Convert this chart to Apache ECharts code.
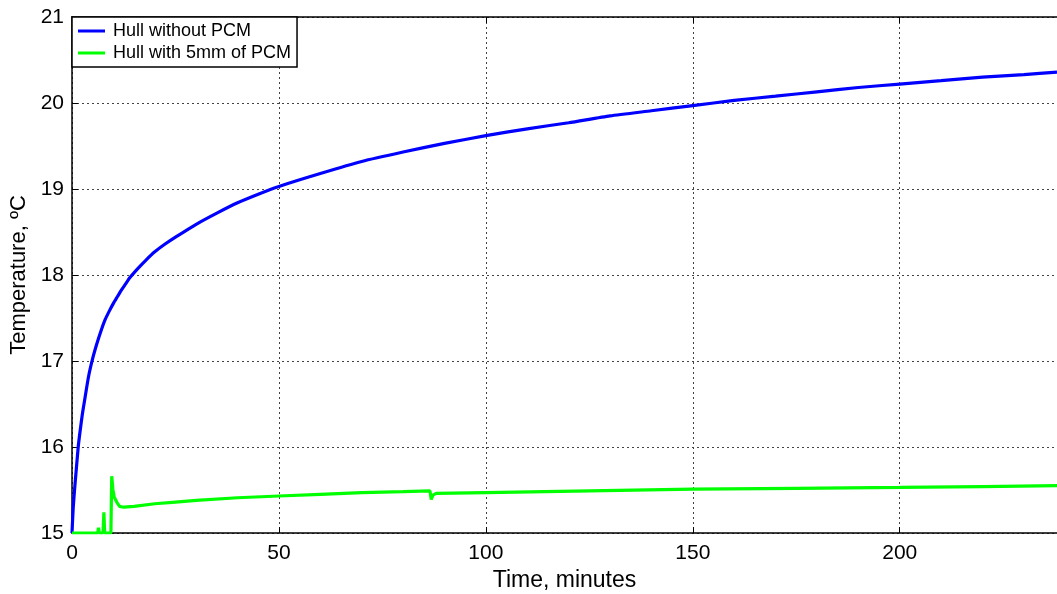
<!DOCTYPE html>
<html>
<head>
<meta charset="utf-8">
<script src="https://cdn.jsdelivr.net/npm/echarts@6/dist/echarts.min.js"></script>
<style>
  html, body { margin: 0; padding: 0; background: #fff; }
  #chart { width: 1057px; height: 594px; }
</style>
</head>
<body>
<div id="chart"></div>
<script>
// values: [time in minutes, temperature in ºC]
const hullNoPcm = [
    [0, 15.0], [0.3, 15.3], [0.7, 15.55], [1, 15.72], [1.5, 16.0], [2, 16.2],
    [2.5, 16.38], [3, 16.53], [4, 16.82], [5, 17.03], [6, 17.2], [7, 17.35],
    [8, 17.48], [9, 17.58], [10, 17.67], [11, 17.75], [12, 17.83], [13, 17.9],
    [14, 17.97], [16, 18.08], [18, 18.18], [20, 18.27], [22.5, 18.36], [25, 18.44],
    [30, 18.59], [35, 18.72], [40, 18.84], [45, 18.94], [50, 19.03], [60, 19.18],
    [70, 19.32], [80, 19.43], [90, 19.53], [100, 19.62], [110, 19.7], [120, 19.77],
    [130, 19.85], [140, 19.91], [150, 19.97], [160, 20.03], [170, 20.08],
    [180, 20.13], [190, 20.18], [200, 20.22], [210, 20.26], [220, 20.3],
    [230, 20.33], [238, 20.36]
];

const hullPcm5mm = [
    [0, 15.0], [6.2, 15.0], [6.4, 15.06], [6.6, 15.0], [7.5, 15.0], [7.7, 15.24],
    [7.9, 15.0], [9.4, 15.0], [9.6, 15.66], [9.9, 15.5], [10.2, 15.42], [10.5, 15.4],
    [10.8, 15.36], [11.5, 15.31], [12.5, 15.3], [15, 15.31], [20, 15.34],
    [25, 15.36], [30, 15.38], [40, 15.41], [50, 15.43], [60, 15.45], [70, 15.47],
    [80, 15.48], [86.5, 15.49], [86.8, 15.39], [87.2, 15.44], [88, 15.46],
    [100, 15.47], [125, 15.49], [150, 15.51], [175, 15.52], [200, 15.53],
    [220, 15.54], [238, 15.55]
];

const seriesNames = ['Hull without PCM', 'Hull with 5mm of PCM'];
const xTicks = [0, 50, 100, 150, 200];
const yTicks = [15, 16, 17, 18, 19, 20, 21];

const font = 'Liberation Sans, Arial, sans-serif';
const gridLine = { show: true, lineStyle: { color: '#444', type: [2, 3], width: 1 } };

const chart = echarts.init(document.getElementById('chart'));

chart.setOption({
    animation: false,
    backgroundColor: '#fff',
    grid: { left: 72, right: 0, top: 17, bottom: 61, containLabel: false, outerBoundsMode: 'none' },
    legend: {
        left: 72,
        top: 17,
        orient: 'vertical',
        backgroundColor: '#fff',
        borderColor: '#000',
        borderWidth: 1.5,
        borderRadius: 0,
        padding: [5, 6, 5, 6],
        itemGap: 4,
        itemWidth: 27,
        itemHeight: 3,
        icon: 'rect',
        textStyle: { fontFamily: font, fontSize: 18, color: '#000', padding: [0, 0, 0, 3] },
        data: seriesNames
    },
    xAxis: [{
        type: 'value',
        min: 0,
        max: 238,
        interval: 50,
        name: 'Time, minutes',
        nameLocation: 'middle',
        nameGap: 34,
        nameTextStyle: { fontFamily: font, fontSize: 23, color: '#000' },
        axisLine: { show: true, onZero: false, lineStyle: { color: '#000', width: 1.5 } },
        axisTick: { show: true, inside: true, length: 6, lineStyle: { color: '#000' } },
        axisLabel: {
            fontFamily: font, fontSize: 21, color: '#000', margin: 10,
            showMaxLabel: false,
            formatter: v => (xTicks.indexOf(v) >= 0 ? String(v) : '')
        },
        splitLine: gridLine
    }, {
        type: 'value',
        position: 'top',
        min: 0,
        max: 238,
        interval: 50,
        axisLine: { show: true, onZero: false, lineStyle: { color: '#000', width: 1.5 } },
        axisTick: { show: true, inside: true, length: 6, lineStyle: { color: '#000' } },
        axisLabel: { show: false },
        splitLine: { show: false }
    }],
    yAxis: {
        type: 'value',
        min: 15,
        max: 21,
        interval: 1,
        name: 'Temperature, ºC',
        nameLocation: 'middle',
        nameGap: 42,
        nameTextStyle: { fontFamily: font, fontSize: 22, color: '#000' },
        axisLine: { show: true, onZero: false, lineStyle: { color: '#000', width: 1.5 } },
        axisTick: { show: true, inside: true, length: 6, lineStyle: { color: '#000' } },
        axisLabel: {
            fontFamily: font, fontSize: 21, color: '#000', margin: 8,
            formatter: v => (yTicks.indexOf(v) >= 0 ? String(v) : '')
        },
        splitLine: gridLine
    },
    series: [{
        name: seriesNames[0],
        type: 'line',
        data: hullNoPcm,
        showSymbol: false,
        smooth: 0.2,
        color: '#0000ff',
        lineStyle: { color: '#0000ff', width: 3.2 },
        z: 3
    }, {
        name: seriesNames[1],
        type: 'line',
        data: hullPcm5mm,
        showSymbol: false,
        smooth: false,
        color: '#00ff00',
        lineStyle: { color: '#00ff00', width: 3.2 },
        z: 4
    }]
});
</script>
</body>
</html>
